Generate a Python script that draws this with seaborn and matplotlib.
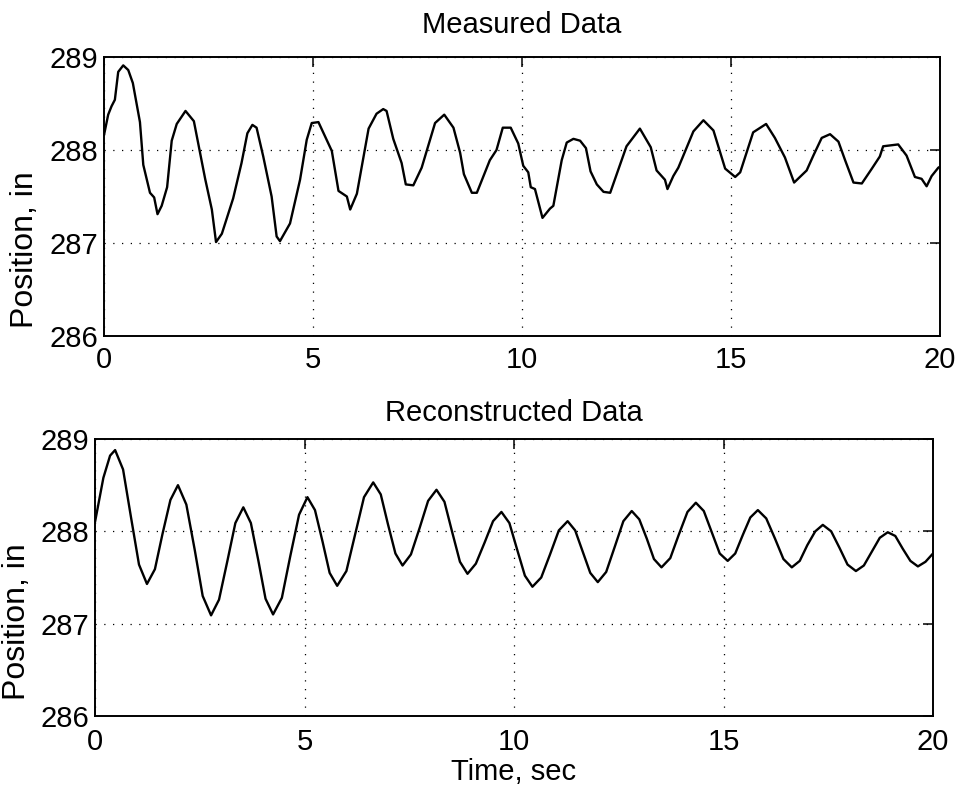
import matplotlib
matplotlib.use("Agg")
import matplotlib.pyplot as plt
import seaborn as sns

# ---------------- data ----------------
measured_t = [0.00, 0.10, 0.18, 0.26, 0.34, 0.46, 0.58, 0.69, 0.86, 0.94,
              1.10, 1.20, 1.28, 1.38, 1.51, 1.62, 1.74, 1.95, 2.15, 2.42,
              2.58, 2.68, 2.82, 3.09, 3.29, 3.43, 3.55, 3.65, 3.81, 4.01,
              4.13, 4.21, 4.45, 4.69, 4.85, 4.97, 5.13, 5.45, 5.61, 5.81,
              5.89, 6.05, 6.33, 6.52, 6.68, 6.76, 6.92, 7.12, 7.22, 7.40,
              7.60, 7.92, 8.14, 8.36, 8.52, 8.61, 8.80, 8.92, 9.23, 9.39,
              9.54, 9.73, 9.91, 10.03, 10.15, 10.21, 10.31, 10.49, 10.67, 10.75,
              10.95, 11.07, 11.23, 11.39, 11.53, 11.64, 11.79, 11.95, 12.11, 12.50,
              12.82, 13.08, 13.22, 13.42, 13.48, 13.62, 13.74, 14.10, 14.34, 14.58,
              14.86, 15.10, 15.22, 15.53, 15.84, 16.05, 16.29, 16.51, 16.81, 16.97,
              17.17, 17.37, 17.57, 17.73, 17.93, 18.13, 18.37, 18.56, 18.64, 19.00,
              19.20, 19.40, 19.56, 19.68, 19.80, 19.96, 20.00]
measured_pos = [288.16, 288.38, 288.47, 288.54, 288.84, 288.91, 288.86, 288.72, 288.30, 287.84,
                287.54, 287.49, 287.31, 287.40, 287.60, 288.10, 288.28, 288.42, 288.31, 287.69,
                287.36, 287.01, 287.10, 287.48, 287.86, 288.18, 288.27, 288.24, 287.93, 287.50,
                287.07, 287.02, 287.21, 287.68, 288.11, 288.29, 288.30, 287.99, 287.56, 287.50,
                287.36, 287.53, 288.23, 288.39, 288.44, 288.42, 288.12, 287.86, 287.63, 287.62,
                287.81, 288.29, 288.38, 288.24, 287.97, 287.74, 287.54, 287.54, 287.89, 288.00,
                288.24, 288.24, 288.07, 287.83, 287.76, 287.60, 287.58, 287.27, 287.37, 287.40,
                287.89, 288.08, 288.12, 288.10, 288.02, 287.77, 287.63, 287.55, 287.54, 288.04,
                288.23, 288.03, 287.78, 287.68, 287.58, 287.72, 287.81, 288.20, 288.32, 288.21,
                287.80, 287.71, 287.76, 288.19, 288.28, 288.13, 287.92, 287.65, 287.78, 287.94,
                288.13, 288.17, 288.09, 287.89, 287.65, 287.64, 287.80, 287.93, 288.04, 288.06,
                287.94, 287.71, 287.69, 287.61, 287.72, 287.81, 287.82]

recon_t = [0.00, 0.20, 0.36, 0.48, 0.67, 0.86, 1.05, 1.24, 1.43, 1.61,
           1.80, 1.98, 2.18, 2.38, 2.57, 2.77, 2.96, 3.16, 3.35, 3.54,
           3.72, 3.90, 4.07, 4.25, 4.46, 4.66, 4.87, 5.07, 5.25, 5.43,
           5.60, 5.78, 6.00, 6.21, 6.42, 6.64, 6.82, 6.99, 7.17, 7.34,
           7.54, 7.75, 7.95, 8.15, 8.34, 8.52, 8.71, 8.89, 9.09, 9.30,
           9.50, 9.70, 9.89, 10.07, 10.26, 10.44, 10.65, 10.86, 11.07, 11.28,
           11.46, 11.64, 11.82, 12.00, 12.20, 12.41, 12.61, 12.81, 12.99, 13.17,
           13.34, 13.52, 13.73, 13.93, 14.14, 14.34, 14.53, 14.72, 14.91, 15.10,
           15.28, 15.46, 15.64, 15.82, 16.02, 16.23, 16.43, 16.63, 16.82, 17.00,
           17.19, 17.37, 17.57, 17.77, 17.96, 18.16, 18.35, 18.54, 18.73, 18.92,
           19.10, 19.28, 19.46, 19.64, 19.82, 20.00]
recon_pos = [288.10, 288.58, 288.82, 288.88, 288.67, 288.15, 287.64, 287.43, 287.59, 287.97,
             288.34, 288.50, 288.29, 287.80, 287.30, 287.09, 287.26, 287.68, 288.09, 288.26,
             288.09, 287.68, 287.27, 287.10, 287.28, 287.73, 288.18, 288.37, 288.23, 287.89,
             287.55, 287.41, 287.57, 287.97, 288.37, 288.53, 288.40, 288.08, 287.76, 287.63,
             287.75, 288.04, 288.33, 288.45, 288.32, 288.00, 287.67, 287.54, 287.65, 287.88,
             288.11, 288.21, 288.09, 287.81, 287.52, 287.40, 287.50, 287.75, 288.01, 288.11,
             288.01, 287.78, 287.55, 287.45, 287.56, 287.84, 288.11, 288.22, 288.13, 287.92,
             287.70, 287.61, 287.71, 287.96, 288.21, 288.31, 288.22, 287.99, 287.76, 287.68,
             287.76, 287.96, 288.15, 288.23, 288.14, 287.92, 287.70, 287.61, 287.68, 287.85,
             288.00, 288.07, 288.00, 287.82, 287.64, 287.57, 287.63, 287.78, 287.93, 287.99,
             287.95, 287.81, 287.68, 287.62, 287.67, 287.76]

x_ticks = [0, 5, 10, 15, 20]
x_tick_labels = ["0", "5", "10", "15", "20"]
y_ticks = [286, 287, 288, 289]
y_tick_labels = ["286", "287", "288", "289"]
titles = ["Measured Data", "Reconstructed Data"]
y_label = "Position, in"
x_label = "Time, sec"

# ---------------- figure ----------------
sns.set_theme(style="white")
plt.rcParams["font.family"] = ["Liberation Sans", "DejaVu Sans"]

W, H = 956, 790
fig = plt.figure(figsize=(W / 100, H / 100), dpi=100)
fig.patch.set_facecolor("white")

def px_axes(left, top, right, bottom):
    return fig.add_axes([left / W, 1 - bottom / H, (right - left) / W, (bottom - top) / H])

ax1 = px_axes(104, 57, 940, 336)
ax2 = px_axes(95, 439, 933, 716)

panels = [
    (ax1, measured_t, measured_pos, titles[0], 7, 17),
    (ax2, recon_t, recon_pos, titles[1], 9, 13),
]

for ax, t, v, title, xpad, tpad in panels:
    ax.set_facecolor("white")
    sns.lineplot(x=t, y=v, ax=ax, color="black", linewidth=1.7, sort=False)
    ax.set_xlim(0, 20)
    ax.set_ylim(286, 289)
    ax.set_xticks(x_ticks)
    ax.set_xticklabels(x_tick_labels)
    ax.set_yticks(y_ticks)
    ax.set_yticklabels(y_tick_labels)
    ax.grid(True, color="black", linestyle=(0, (1, 6)), linewidth=0.9)
    ax.tick_params(direction="in", length=7, width=1.1, top=True, right=True,
                   labelsize=21, colors="black")
    ax.tick_params(axis="x", pad=xpad)
    ax.tick_params(axis="y", pad=4)
    for s in ax.spines.values():
        s.set_visible(True)
        s.set_color("black")
        s.set_linewidth(1.4)
    ax.set_title(title, fontsize=21, pad=tpad, color="black")
    ax.set_ylabel(y_label, fontsize=23, color="black")
    ax.set_xlabel("")

ax1.yaxis.set_label_coords(-0.077, 0.31)
ax2.yaxis.set_label_coords(-0.075, 0.34)
ax2.set_xlabel(x_label, fontsize=21, labelpad=1, color="black")

fig.savefig("out.png", dpi=100, facecolor="white")
